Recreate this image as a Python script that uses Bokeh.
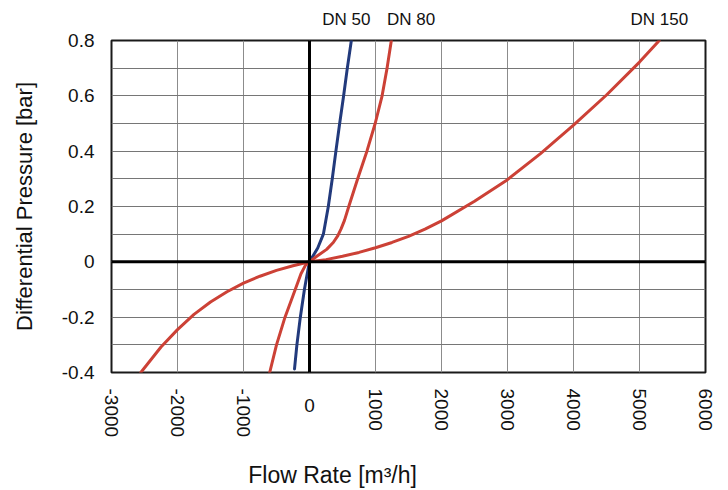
import math
from bokeh.plotting import figure
from bokeh.models import FixedTicker, Span, LinearAxis
from bokeh.embed import file_html
from bokeh.resources import INLINE

# ---- data ----
dn50_q = [-227, -191, -139, -77, -40, 0, 125, 210, 285, 345, 400, 457, 517, 573, 634]
dn50_dp = [-0.387, -0.3, -0.2, -0.1, -0.05, 0, 0.05, 0.1, 0.2, 0.3, 0.4, 0.5, 0.6, 0.7, 0.8]

dn80_q = [-603, -500, -371, -216, -129, -60, 0, 110, 260, 360, 430, 480, 530, 595, 730, 870, 995, 1100, 1175, 1240]
dn80_dp = [-0.4, -0.3, -0.2, -0.1, -0.043, -0.012, 0, 0.02, 0.045, 0.07, 0.095, 0.12, 0.15, 0.2, 0.3, 0.4, 0.5, 0.6, 0.7, 0.8]

dn150_q = [-2556, -2250, -2000, -1750, -1500, -1250, -1000, -750, -500, -250, 0,
           250, 500, 750, 1000, 1250, 1500, 1750, 2000, 2500, 3000, 3500, 4000, 4500, 5000, 5300]
dn150_dp = [-0.4, -0.308, -0.245, -0.19, -0.145, -0.108, -0.077, -0.052, -0.031, -0.014, 0,
            0.008, 0.02, 0.034, 0.051, 0.07, 0.092, 0.118, 0.148, 0.219, 0.297, 0.391, 0.494, 0.603, 0.722, 0.8]

x_ticks = [-3000, -2000, -1000, 0, 1000, 2000, 3000, 4000, 5000, 6000]
x_labels = ["-3000", "-2000", "-1000", "", "1000", "2000", "3000", "4000", "5000", "6000"]
y_ticks = [-0.4, -0.2, 0, 0.2, 0.4, 0.6, 0.8]
y_labels = ["-0.4", "-0.2", "0", "0.2", "0.4", "0.6", "0.8"]
y_minor = [-0.3, -0.1, 0.1, 0.3, 0.5, 0.7]

series_names = ["DN 50", "DN 80", "DN 150"]
series_label_q = [557, 1540, 5300]
series_colors = ["#223a7c", "#cc4136", "#cc4136"]

x_title = "Flow Rate [m³/h]"
x_title_q = 350
y_title = "Differential Pressure [bar]"

FONT = "Liberation Sans"
TXT = "#111111"

p = figure(width=720, height=490, output_backend="svg", toolbar_location=None,
           x_range=(-3000, 6000), y_range=(-0.4, 0.8),
           min_border_left=111, min_border_right=15, min_border_top=40, min_border_bottom=118)
p.background_fill_color = "white"
p.border_fill_color = "white"
p.outline_line_color = "#1a1a1a"
p.outline_line_width = 2


def style_axis(ax, size="19px"):
    ax.axis_line_color = None
    ax.major_tick_line_color = None
    ax.minor_tick_line_color = None
    ax.major_tick_out = 0
    ax.major_tick_in = 0
    ax.major_label_text_font = FONT
    ax.major_label_text_font_size = size
    ax.major_label_text_color = TXT
    ax.axis_label_text_font = FONT
    ax.axis_label_text_font_size = "22px"
    ax.axis_label_text_font_style = "normal"
    ax.axis_label_text_color = TXT


p.xaxis.ticker = FixedTicker(ticks=x_ticks)
p.yaxis.ticker = FixedTicker(ticks=y_ticks, minor_ticks=y_minor)
p.xaxis.major_label_overrides = dict(zip(x_ticks, x_labels))
p.yaxis.major_label_overrides = dict(zip(y_ticks, y_labels))
for ax in (p.xaxis[0], p.yaxis[0]):
    style_axis(ax)

p.xaxis.major_label_orientation = -math.pi / 2
p.xaxis.major_label_standoff = 16
p.yaxis.major_label_standoff = 13
p.yaxis.axis_label = y_title
p.yaxis.axis_label_standoff = 22

# upright "0" tick label, tucked up beside the rotated labels
zero_axis = LinearAxis(ticker=FixedTicker(ticks=[0]), major_label_overrides={0: "0"})
style_axis(zero_axis)
zero_axis.major_label_standoff = -42
p.add_layout(zero_axis, "below")

# x axis title, placed off-centre as in the reference
title_axis = LinearAxis(ticker=FixedTicker(ticks=[x_title_q]), major_label_overrides={x_title_q: x_title})
style_axis(title_axis, "23px")
title_axis.major_label_standoff = 21
p.add_layout(title_axis, "below")

# series labels above the frame
top_axis = LinearAxis(ticker=FixedTicker(ticks=series_label_q),
                      major_label_overrides=dict(zip(series_label_q, series_names)))
style_axis(top_axis, "17px")
top_axis.major_label_standoff = 12
p.add_layout(top_axis, "above")

p.xgrid.grid_line_color = "#8c8c8c"
p.xgrid.grid_line_width = 1
p.ygrid.grid_line_color = "#767676"
p.ygrid.grid_line_width = 1
p.ygrid.minor_grid_line_color = "#767676"
p.ygrid.minor_grid_line_width = 1

p.add_layout(Span(location=0, dimension="height", line_color="black", line_width=3))
p.add_layout(Span(location=0, dimension="width", line_color="black", line_width=3))

for q, dp, c in zip([dn50_q, dn80_q, dn150_q], [dn50_dp, dn80_dp, dn150_dp], series_colors):
    p.line(q, dp, line_color=c, line_width=3, line_join="round", line_cap="round")

open("out.html", "w").write(file_html(p, INLINE))
